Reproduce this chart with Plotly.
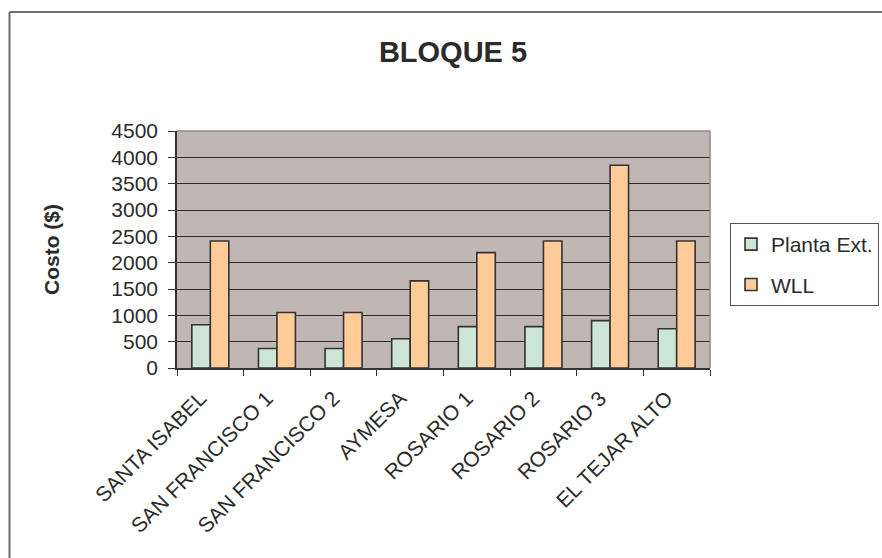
import plotly.graph_objects as go

# Cost per site, block 5
sitios = ["SANTA ISABEL", "SAN FRANCISCO 1", "SAN FRANCISCO 2", "AYMESA",
          "ROSARIO 1", "ROSARIO 2", "ROSARIO 3", "EL TEJAR ALTO"]
planta_ext = [820, 370, 370, 555, 785, 785, 900, 745]
wll = [2410, 1055, 1055, 1655, 2190, 2410, 3850, 2410]

y_ticks = [0, 500, 1000, 1500, 2000, 2500, 3000, 3500, 4000, 4500]

W, H = 882, 558
L, R, T, B = 177, 172, 131, 190
pw, ph = W - L - R, H - T - B

FONT = "Liberation Sans, Arial, sans-serif"
TXT = "#2b2b2b"
EDGE = "#333333"

fig = go.Figure()
fig.add_trace(go.Bar(
    name="Planta Ext.", x=sitios, y=planta_ext, legendgroup="a",
    marker=dict(color="#CCE5D4", line=dict(color=EDGE, width=1.6)),
))
fig.add_trace(go.Bar(
    name="WLL", x=sitios, y=wll, legendgroup="b",
    marker=dict(color="#FFCC99", line=dict(color=EDGE, width=1.6)),
))


def px_x(x):
    return (x - L) / pw


def px_y(y):
    return (H - B - y) / ph


shapes = [
    # outer chart frame (top and left edges)
    dict(type="line", xref="paper", yref="paper",
         x0=px_x(9.5), x1=px_x(W + 20), y0=px_y(12), y1=px_y(12),
         line=dict(color="#6e6e6e", width=2)),
    dict(type="line", xref="paper", yref="paper",
         x0=px_x(9.5), x1=px_x(9.5), y0=px_y(12), y1=px_y(H + 20),
         line=dict(color="#6e6e6e", width=2)),
    # plot area top and right edges
    dict(type="line", xref="paper", yref="paper", x0=0, x1=1, y0=1, y1=1,
         line=dict(color="#8c8c8c", width=1.5)),
    dict(type="line", xref="paper", yref="paper", x0=1, x1=1, y0=0, y1=1,
         line=dict(color="#8c8c8c", width=1.5)),
]

fig.update_layout(
    width=W, height=H,
    margin=dict(l=L, r=R, t=T, b=B, autoexpand=False),
    paper_bgcolor="white",
    plot_bgcolor="#C0B6B3",
    font=dict(family=FONT, size=21, color=TXT),
    title=dict(text="<b>BLOQUE 5</b>", x=(453) / W, xanchor="center",
               y=1 - 52 / H, yanchor="middle",
               font=dict(family=FONT, size=29, color=TXT)),
    barmode="group",
    bargap=0.445,
    bargroupgap=0,
    showlegend=True,
    legend=dict(
        x=px_x(730), xanchor="left", y=px_y(223), yanchor="top",
        bgcolor="white", bordercolor="#555555", borderwidth=1,
        font=dict(family=FONT, size=21, color=TXT),
        tracegroupgap=10, itemwidth=30,
    ),
    shapes=shapes,
)

fig.update_xaxes(
    type="category",
    tickangle=-45,
    tickfont=dict(family=FONT, size=21, color=TXT),
    ticks="outside", tickson="boundaries", ticklen=6,
    tickcolor=EDGE, tickwidth=1.2,
    ticklabelstandoff=8, ticklabelshift=-10,
    showline=True, linecolor=EDGE, linewidth=1.5,
    showgrid=False,
)
fig.update_yaxes(
    range=[0, 4500],
    tickvals=y_ticks,
    ticktext=[str(v) for v in y_ticks],
    tickfont=dict(family=FONT, size=21, color=TXT),
    ticks="outside", ticklen=7, tickcolor=EDGE, tickwidth=1.2,
    ticklabelstandoff=6,
    showline=True, linecolor=EDGE, linewidth=1.5,
    showgrid=True, gridcolor="#2a2a2a", gridwidth=1,
    zeroline=False,
    title=dict(text="<b>Costo ($)</b>", standoff=46,
               font=dict(family=FONT, size=21, color=TXT)),
)

fig.write_html("out.html")
